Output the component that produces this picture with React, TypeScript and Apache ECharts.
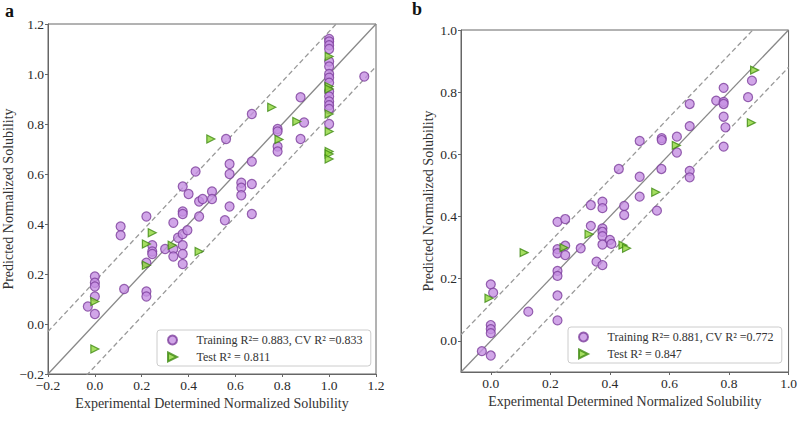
import React, { useEffect, useRef } from "react";
import * as echarts from "echarts";

// ---------- data ----------
const trainingA: [number, number][] = [
  [-0.03, 0.07], [0.0, 0.19], [0.0, 0.165], [0.0, 0.15], [0.0, 0.11], [0.0, 0.04],
  [0.11, 0.39], [0.11, 0.355], [0.125, 0.14],
  [0.22, 0.43], [0.22, 0.245], [0.22, 0.13], [0.22, 0.11],
  [0.245, 0.315], [0.245, 0.29], [0.245, 0.28], [0.3, 0.3],
  [0.335, 0.405], [0.335, 0.3], [0.335, 0.27], [0.355, 0.345],
  [0.375, 0.55], [0.375, 0.45], [0.375, 0.44], [0.375, 0.36], [0.375, 0.315], [0.375, 0.28], [0.375, 0.24],
  [0.395, 0.375], [0.4, 0.52], [0.43, 0.61], [0.445, 0.49], [0.445, 0.43], [0.46, 0.5],
  [0.5, 0.53], [0.5, 0.5], [0.555, 0.415], [0.56, 0.74],
  [0.575, 0.64], [0.575, 0.6], [0.575, 0.47],
  [0.625, 0.565], [0.625, 0.545], [0.625, 0.515],
  [0.67, 0.84], [0.67, 0.65], [0.67, 0.56], [0.67, 0.44],
  [0.78, 0.78], [0.78, 0.77], [0.78, 0.71], [0.78, 0.69],
  [0.878, 0.907], [0.878, 0.74], [0.893, 0.806],
  [1.0, 1.14], [1.0, 1.13], [1.0, 1.115], [1.0, 1.1], [1.0, 1.05], [1.0, 1.03], [1.0, 1.0],
  [1.0, 0.985], [1.0, 0.965], [1.0, 0.93], [1.0, 0.91], [1.0, 0.89], [1.0, 0.875], [1.0, 0.86], [1.0, 0.8],
  [1.15, 0.99],
];
const testA: [number, number][] = [
  [0.0, 0.09], [0.0, -0.1], [0.22, 0.32], [0.22, 0.235], [0.245, 0.365], [0.33, 0.315],
  [0.445, 0.29], [0.495, 0.74], [0.755, 0.867], [0.862, 0.81], [0.786, 0.738],
  [1.0, 1.07], [1.0, 0.95], [1.0, 0.94], [1.0, 0.84], [1.0, 0.77], [1.0, 0.69], [1.0, 0.68], [1.0, 0.66],
];
const trainingB: [number, number][] = [
  [-0.03, -0.033], [0.0, -0.047], [0.0, 0.051], [0.0, 0.038], [0.0, 0.025], [0.0, 0.182], [0.008, 0.155],
  [0.126, 0.094], [0.224, 0.383], [0.25, 0.392], [0.224, 0.295], [0.224, 0.282], [0.25, 0.306], [0.25, 0.276],
  [0.224, 0.225], [0.224, 0.209], [0.224, 0.146], [0.224, 0.066], [0.302, 0.298], [0.336, 0.37], [0.336, 0.437],
  [0.375, 0.448], [0.375, 0.427], [0.375, 0.362], [0.375, 0.351], [0.375, 0.337], [0.375, 0.31],
  [0.4, 0.325], [0.405, 0.312], [0.355, 0.255], [0.375, 0.244], [0.43, 0.553], [0.448, 0.434], [0.448, 0.405],
  [0.5, 0.464], [0.558, 0.419], [0.5, 0.528], [0.573, 0.553], [0.668, 0.547], [0.668, 0.526],
  [0.5, 0.643], [0.574, 0.652], [0.574, 0.646], [0.625, 0.657], [0.625, 0.606], [0.668, 0.691], [0.668, 0.762],
  [0.757, 0.773], [0.782, 0.769], [0.782, 0.762], [0.782, 0.814], [0.782, 0.721], [0.788, 0.687], [0.782, 0.625],
  [0.864, 0.784], [0.877, 0.837],
];
const testB: [number, number][] = [
  [-0.006, 0.137], [0.112, 0.284], [0.246, 0.3], [0.33, 0.343], [0.444, 0.308], [0.456, 0.298],
  [0.554, 0.478], [0.623, 0.629], [0.875, 0.702], [0.886, 0.871],
];

const ticksA = [-0.2, 0.0, 0.2, 0.4, 0.6, 0.8, 1.0, 1.2];
const ticksB = [0.0, 0.2, 0.4, 0.6, 0.8, 1.0];
const rangeA: [number, number] = [-0.2, 1.2];
const rangeB: [number, number] = [-0.1, 1.0];
const bandA = 0.17;
const bandB = 0.12;

const legendTrainA = "Training R²= 0.883, CV R² =0.833";
const legendTestA = "Test R² = 0.811";
const legendTrainB = "Training R²= 0.881, CV R² =0.772";
const legendTestB = "Test R² = 0.847";
const xTitle = "Experimental Determined Normalized Solubility";
const yTitle = "Predicted Normalized Solubility";

const FONT = "'Liberation Serif', 'Times New Roman', serif";
const TRI_ICON = "path://M0,0L10,5L0,10Z";

function fmt(v: number) {
  return v.toFixed(1).replace("-", "\u2212");
}

function axis(gridIndex: number, range: [number, number], ticks: number[], name: string, nameGap: number) {
  return {
    type: "value",
    gridIndex,
    min: range[0],
    max: range[1],
    name,
    nameLocation: "middle",
    nameGap,
    nameTextStyle: { fontFamily: FONT, fontSize: 14, color: "#333" },
    axisLine: { show: true, onZero: false, lineStyle: { color: "#666", width: 1 } },
    axisTick: { show: true, length: 3, lineStyle: { color: "#666" }, customValues: ticks },
    axisLabel: {
      fontFamily: FONT, fontSize: 13.5, color: "#2a2a2a", margin: 4,
      customValues: ticks,
      formatter: (v: number) => fmt(v),
    },
    splitLine: { show: false },
  };
}

function refLine(idx: number, range: [number, number], off: number, dashed: boolean) {
  const data = range.map((x) => [x, x + off]);
  return {
    type: "line",
    xAxisIndex: idx,
    yAxisIndex: idx,
    data,
    symbol: "none",
    silent: true,
    clip: true,
    lineStyle: { color: dashed ? "#999" : "#888", width: 1.3, type: dashed ? [5, 3] : "solid" },
    z: 1,
  };
}

const circleStyle = { color: "#c690e2", borderColor: "#7d3f9c", borderWidth: 1.2 };
const triStyle = { color: "#8fd63a", borderColor: "#3e8a12", borderWidth: 1.2 };

function scatter(idx: number, name: string, data: [number, number][], tri: boolean) {
  return {
    type: "scatter",
    name,
    xAxisIndex: idx,
    yAxisIndex: idx,
    data,
    symbol: tri ? "triangle" : "circle",
    symbolRotate: tri ? -90 : 0,
    symbolSize: tri ? 8 : 9,
    itemStyle: tri ? triStyle : circleStyle,
    z: tri ? 4 : 3,
  };
}

function legend(left: number, top: number, train: string, test: string) {
  return {
    orient: "vertical",
    left,
    top,
    data: [{ name: train, icon: "circle" }, { name: test, icon: TRI_ICON }],
    itemWidth: 10,
    itemHeight: 9,
    itemGap: 5,
    padding: [4, 8, 3, 10],
    backgroundColor: "#fff",
    borderColor: "#ccc",
    borderWidth: 1,
    borderRadius: 3,
    selectedMode: false,
    textStyle: { fontFamily: FONT, fontSize: 12, color: "#333", padding: [0, 0, 0, 14] },
  };
}

export default function App() {
  const ref = useRef<HTMLDivElement>(null);
  useEffect(() => {
    document.body.style.margin = "0";
    if (!ref.current) return;
    const chart = echarts.init(ref.current, undefined, { renderer: "svg" });
    chart.setOption({
      animation: false,
      backgroundColor: "#fff",
      textStyle: { fontFamily: FONT },
      grid: [
        { left: 48, top: 24, width: 328, height: 350, show: true, borderColor: "#666", borderWidth: 1, backgroundColor: "transparent" },
        { left: 461, top: 30, width: 328, height: 342, show: true, borderColor: "#666", borderWidth: 1, backgroundColor: "transparent" },
      ],
      xAxis: [axis(0, rangeA, ticksA, xTitle, 19), axis(1, rangeB, ticksB, xTitle, 19)],
      yAxis: [axis(0, rangeA, ticksA, yTitle, 31), axis(1, rangeB, ticksB, yTitle, 26)],
      legend: [
        legend(157, 330, legendTrainA, legendTestA),
        legend(568, 327, legendTrainB, legendTestB),
      ],
      graphic: [
        { type: "text", left: 5, top: 2, style: { text: "a", fontFamily: FONT, fontWeight: "bold", fontSize: 18, fill: "#111" } },
        { type: "text", left: 412, top: 0, style: { text: "b", fontFamily: FONT, fontWeight: "bold", fontSize: 18, fill: "#111" } },
      ],
      series: [
        refLine(0, rangeA, 0, false),
        refLine(0, rangeA, bandA, true),
        refLine(0, rangeA, -bandA, true),
        refLine(1, rangeB, 0, false),
        refLine(1, rangeB, bandB, true),
        refLine(1, rangeB, -bandB, true),
        scatter(0, legendTrainA, trainingA, false),
        scatter(0, legendTestA, testA, true),
        scatter(1, legendTrainB, trainingB, false),
        scatter(1, legendTestB, testB, true),
      ],
    });
    return () => chart.dispose();
  }, []);
  return <div ref={ref} style={{ width: 800, height: 421 }} />;
}
